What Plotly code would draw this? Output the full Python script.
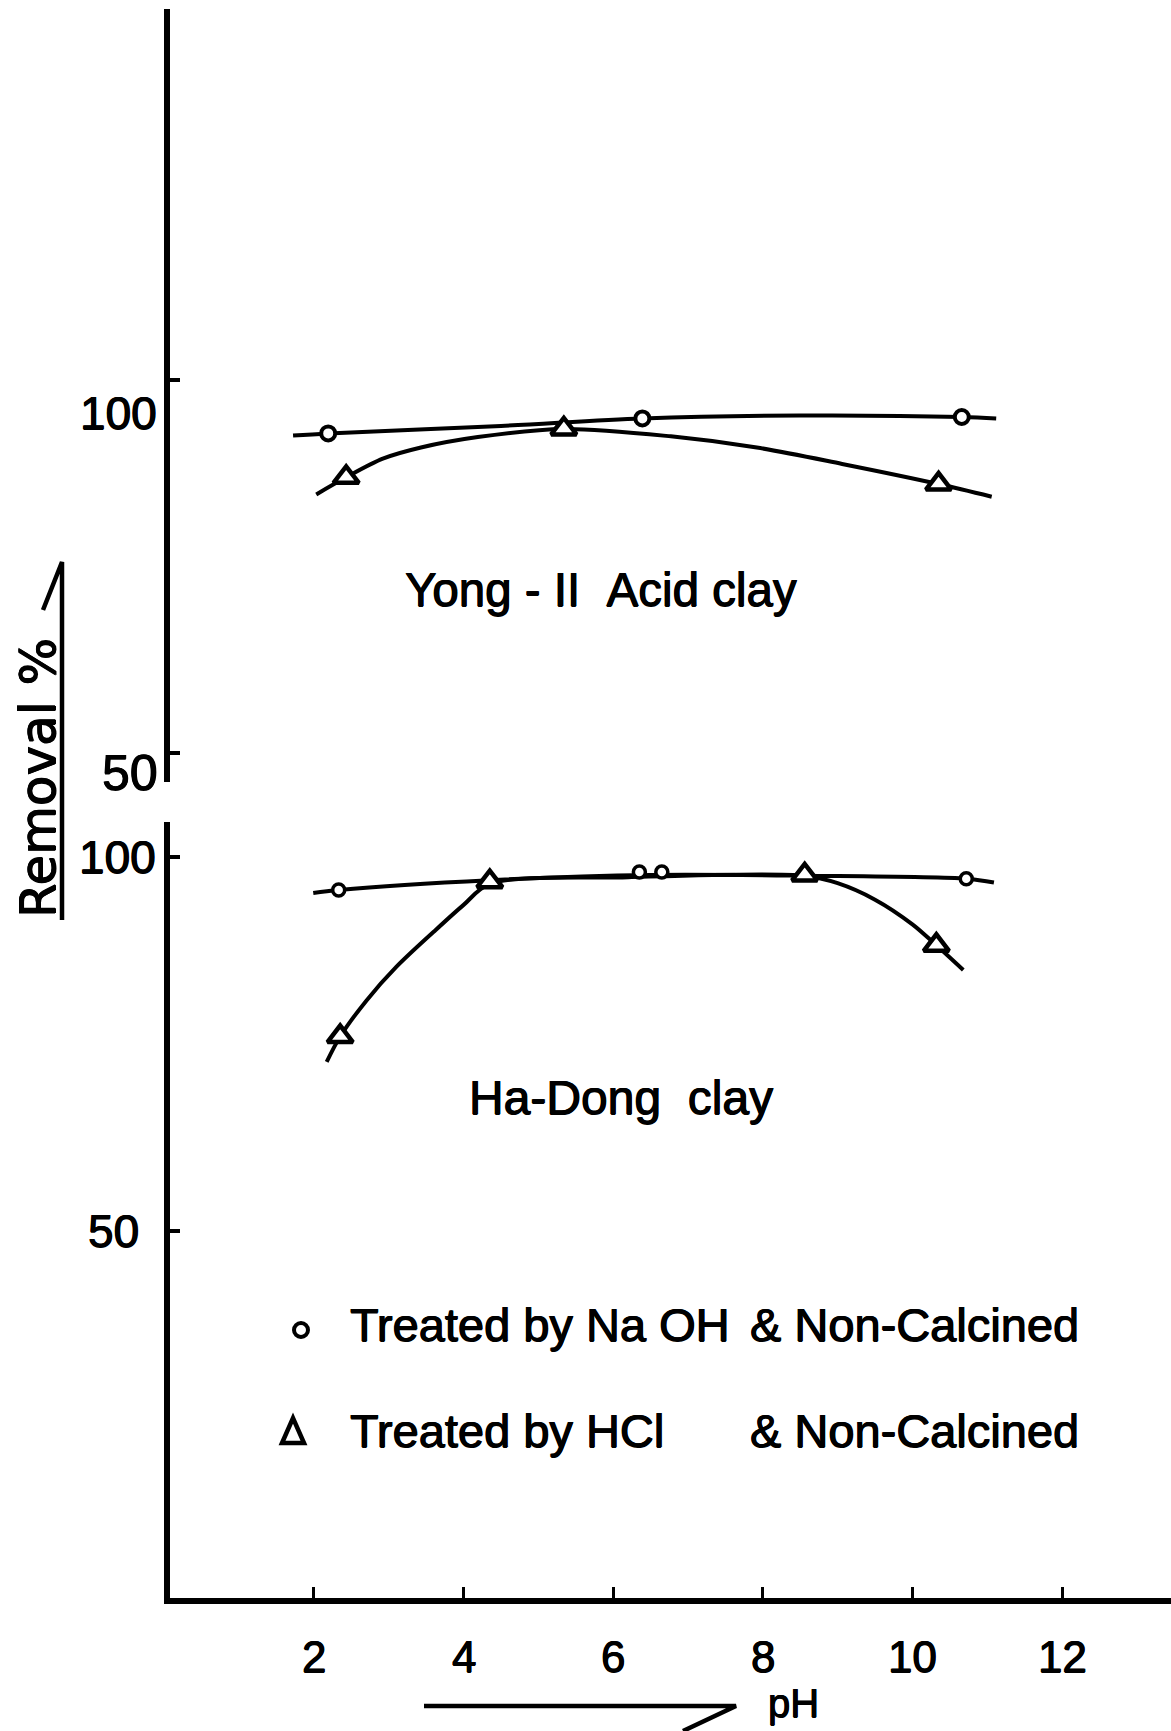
import plotly.graph_objects as go

# ---------------- data ----------------
# Upper panel: Yong-II Acid clay
yong_naoh_ph = [2.19, 6.39, 10.66]
yong_naoh_val = [92.9, 94.9, 95.1]
yong_hcl_ph = [2.43, 5.34, 10.35]
yong_hcl_val = [87.0, 93.5, 86.1]
# hand-drawn fitted curves
yong_naoh_curve_ph = [1.72, 2.19, 4.5, 6.39, 8.49, 10.66, 11.12]
yong_naoh_curve_val = [92.6, 92.9, 93.9, 94.9, 95.3, 95.1, 94.9]
yong_hcl_curve_ph = [2.03, 2.43, 2.92, 3.43, 4.19, 5.34, 6.77, 7.92, 9.06, 10.35, 11.06]
yong_hcl_curve_val = [84.7, 87.0, 89.5, 91.0, 92.4, 93.5, 92.5, 91.0, 88.8, 86.1, 84.4]

# Lower panel: Ha-Dong clay
hadong_naoh_ph = [2.33, 6.35, 6.65, 10.72]
hadong_naoh_val = [95.6, 98.0, 98.0, 97.1]
hadong_hcl_ph = [2.35, 4.35, 8.56, 10.32]
hadong_hcl_val = [76.0, 96.7, 97.6, 88.2]
hadong_naoh_curve_ph = [1.99, 2.33, 4.35, 6.5, 8.56, 10.72, 11.09]
hadong_naoh_curve_val = [95.2, 95.6, 96.9, 97.6, 97.5, 97.1, 96.6]
hadong_hcl_curve_ph = [2.17, 2.35, 2.7, 3.1, 3.6, 4.0, 4.35, 6.2, 8.56, 9.0, 9.5, 10.0, 10.32, 10.68]
hadong_hcl_curve_val = [72.6, 76.0, 80.8, 85.3, 90.0, 93.6, 96.4, 97.3, 97.5, 96.5, 94.3, 91.0, 88.2, 84.9]

x_ticks = [2, 4, 6, 8, 10, 12]
x_tick_labels = ["2", "4", "6", "8", "10", "12"]
y_ticks = [50, 100]
y_tick_labels = ["50", "100"]

panel_titles = ["Yong\u00a0-\u00a0II\u00a0\u00a0Acid clay", "Ha-Dong\u00a0\u00a0clay"]
legend_left = ["Treated by Na OH", "Treated by HCl"]
legend_right = ["& Non-Calcined", "& Non-Calcined"]

# ---------------- layout helpers ----------------
W, H = 1171, 1731
L, R, T, B = 170, 0, 9, 133
PW, PH = W - L - R, H - T - B
def px(x):
    return (x - L) / PW
def py(y):
    return (H - B - y) / PH

FONT = "Liberation Sans, Arial, sans-serif"
BLACK = "#000000"
SHADOW = "0.6px 0 0 #000, -0.6px 0 0 #000, 0 0.6px 0 #000"

def f(size, family=FONT):
    return dict(size=size, family=family, color=BLACK, shadow=SHADOW)

fig = go.Figure()

def curve(xs, ys, yaxis):
    fig.add_trace(go.Scatter(x=xs, y=ys, yaxis=yaxis, mode="lines",
                             line=dict(color=BLACK, width=4, shape="spline", smoothing=0.9),
                             showlegend=False, hoverinfo="skip"))

def pts(xs, ys, yaxis, symbol, size, lw):
    fig.add_trace(go.Scatter(x=xs, y=ys, yaxis=yaxis, mode="markers",
                             marker=dict(symbol=symbol, size=size, color="white",
                                         line=dict(color=BLACK, width=lw)),
                             showlegend=False))

curve(yong_naoh_curve_ph, yong_naoh_curve_val, "y2")
curve(yong_hcl_curve_ph, yong_hcl_curve_val, "y2")
curve(hadong_naoh_curve_ph, hadong_naoh_curve_val, "y")
curve(hadong_hcl_curve_ph, hadong_hcl_curve_val, "y")
pts(yong_naoh_ph, yong_naoh_val, "y2", "circle", 14, 4)
pts(yong_hcl_ph, yong_hcl_val, "y2", "triangle-up", 22, 4.5)
pts(hadong_naoh_ph, hadong_naoh_val, "y", "circle", 12, 3.5)
pts(hadong_hcl_ph, hadong_hcl_val, "y", "triangle-up", 22, 4.5)

ann = []
# y tick labels (upper panel labels sit a little below their ticks, as drawn)
upper_shift = {100: -33, 50: -20}
upper_right = {100: 159, 50: 160}
lower_right = {100: 158, 50: 141}
upper_size = {100: 46, 50: 50}
for v, t in zip(y_ticks, y_tick_labels):
    ann.append(dict(x=px(upper_right[v]), xref="paper", y=v, yref="y2", text=t,
                    xanchor="right", yanchor="middle", yshift=upper_shift[v],
                    showarrow=False, font=f(upper_size[v])))
    ann.append(dict(x=px(lower_right[v]), xref="paper", y=v, yref="y", text=t,
                    xanchor="right", yanchor="middle",
                    showarrow=False, font=f(46)))
# x tick labels
for v, t in zip(x_ticks, x_tick_labels):
    ann.append(dict(x=v, xref="x", y=0, yref="paper", text=t, xanchor="center",
                    yanchor="middle", yshift=-58, showarrow=False, font=f(44)))
# panel titles
ann.append(dict(x=px(601), y=py(590), xref="paper", yref="paper", text=panel_titles[0],
                showarrow=False, xanchor="center", yanchor="middle", font=f(47.5)))
ann.append(dict(x=px(621), y=py(1097), xref="paper", yref="paper", text=panel_titles[1],
                showarrow=False, xanchor="center", yanchor="middle", font=f(48)))
# legend texts
for i, yy in enumerate([1324, 1430]):
    ann.append(dict(x=px(348), y=py(yy), xref="paper", yref="paper", text=legend_left[i],
                    showarrow=False, xanchor="left", yanchor="middle", font=f(47)))
    ann.append(dict(x=px(748), y=py(yy), xref="paper", yref="paper", text=legend_right[i],
                    showarrow=False, xanchor="left", yanchor="middle", font=f(47)))
# axis titles
ann.append(dict(x=px(38), y=py(778), xref="paper", yref="paper", text="Removal %",
                textangle=-90, showarrow=False, xanchor="center", yanchor="middle",
                font=f(50, "DejaVu Sans, Liberation Sans, sans-serif")))
ann.append(dict(x=px(793), y=py(1703), xref="paper", yref="paper", text="pH",
                showarrow=False, xanchor="center", yanchor="middle", font=f(40)))

def path(points):
    return "M " + " L ".join(f"{px(a):.5f},{py(b):.5f}" for a, b in points)

shapes = [
    # arrow under pH axis
    dict(type="path", xref="paper", yref="paper", path=path([(424, 1706), (736, 1706), (683, 1731)]),
         line=dict(color=BLACK, width=4.5)),
    # arrow line beside Removal %
    dict(type="path", xref="paper", yref="paper", path=path([(43, 610), (62, 562), (62, 920)]),
         line=dict(color=BLACK, width=4.5)),
    # legend circle
    dict(type="circle", xref="paper", yref="paper", x0=px(294), x1=px(308), y0=py(1337), y1=py(1323),
         line=dict(color=BLACK, width=4)),
    # legend triangle
    dict(type="path", xref="paper", yref="paper",
         path=path([(282, 1443), (304, 1443), (293, 1418)]) + " Z",
         line=dict(color=BLACK, width=4.5)),
]

axis_common = dict(showgrid=False, zeroline=False, showline=True, linecolor=BLACK,
                   linewidth=6, ticks="inside", tickcolor=BLACK, showticklabels=False)

fig.update_layout(
    width=W, height=H, autosize=False,
    margin=dict(l=L, r=R, t=T, b=B, pad=0),
    paper_bgcolor="white", plot_bgcolor="white",
    showlegend=False,
    xaxis=dict(range=[0.075, 13.457], tickvals=x_ticks, ticklen=11, tickwidth=3,
               anchor="y", **axis_common),
    yaxis=dict(domain=[0, py(822)], range=[0.94, 104.68], tickvals=y_ticks,
               ticklen=10, tickwidth=4, anchor="x", **axis_common),
    yaxis2=dict(domain=[py(782), 1], range=[46.1, 149.87], tickvals=y_ticks,
                ticklen=10, tickwidth=4, anchor="x", **axis_common),
    annotations=ann,
    shapes=shapes,
)

fig.write_html("out.html")
